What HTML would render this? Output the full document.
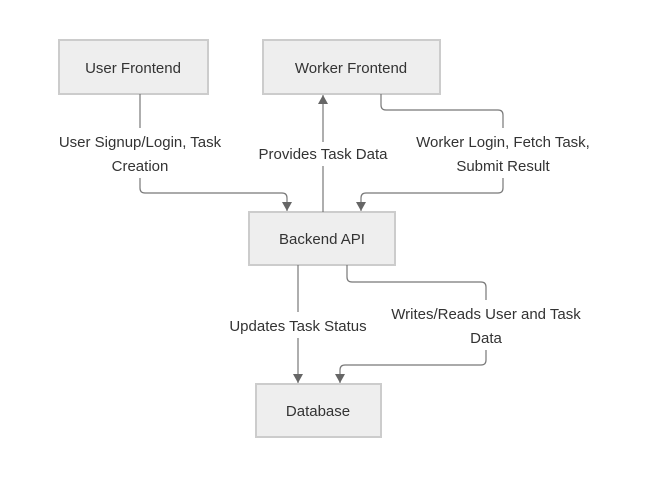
<!DOCTYPE html>
<html><head><style>
html,body{margin:0;padding:0;background:#fff;}
svg text{font-family:"Liberation Sans",sans-serif;font-size:15px;fill:#333;text-anchor:middle;}
</style></head><body>
<svg width="645" height="478" viewBox="0 0 645 478" xmlns="http://www.w3.org/2000/svg">
<defs><marker id="a" markerWidth="10" markerHeight="10" refX="9" refY="5" orient="auto" markerUnits="userSpaceOnUse" viewBox="0 0 10 10"><path d="M0,0 L9,5 L0,10 z" fill="#666"/></marker></defs>
<g fill="#eee" stroke="#ccc" stroke-width="2">
<rect x="59" y="40" width="149" height="54"/>
<rect x="263" y="40" width="177" height="54"/>
<rect x="249" y="212" width="146" height="53"/>
<rect x="256" y="384" width="125" height="53"/>
</g>
<g fill="none" stroke="#777" stroke-width="1.2">
<path d="M140,94 V128"/>
<path d="M140,178 V188 Q140,193 145,193 H282 Q287,193 287,198 V211" marker-end="url(#a)"/>
<path d="M381,94 V105 Q381,110 386,110 H498 Q503,110 503,115 V128"/>
<path d="M503,178 V188 Q503,193 498,193 H366 Q361,193 361,198 V211" marker-end="url(#a)"/>
<path d="M323,212 V166"/>
<path d="M323,142 V95" marker-end="url(#a)"/>
<path d="M298,265 V312"/>
<path d="M298,338 V383" marker-end="url(#a)"/>
<path d="M347,265 V277 Q347,282 352,282 H481 Q486,282 486,287 V300"/>
<path d="M486,350 V360 Q486,365 481,365 H345 Q340,365 340,370 V383" marker-end="url(#a)"/>
</g>
<text x="133" y="73">User Frontend</text>
<text x="351" y="73">Worker Frontend</text>
<text x="322" y="244">Backend API</text>
<text x="318" y="416">Database</text>
<text x="140" y="147">User Signup/Login, Task</text>
<text x="140" y="171">Creation</text>
<text x="323" y="159">Provides Task Data</text>
<text x="503" y="147">Worker Login, Fetch Task,</text>
<text x="503" y="171">Submit Result</text>
<text x="298" y="331">Updates Task Status</text>
<text x="486" y="319">Writes/Reads User and Task</text>
<text x="486" y="343">Data</text>
</svg>
</body></html>
